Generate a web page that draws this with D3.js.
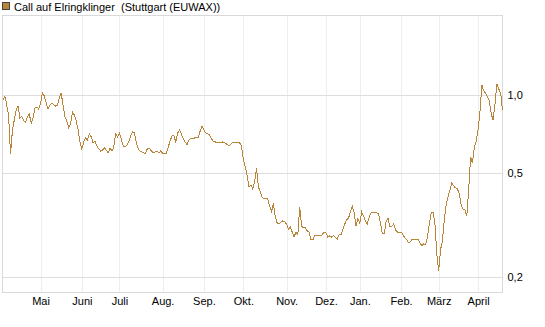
<!DOCTYPE html>
<html>
<head>
<meta charset="utf-8">
<script src="https://cdn.jsdelivr.net/npm/d3@7/dist/d3.min.js"></script>
<style>
    body { margin: 0; background: #fff; }
    svg { display: block; font-family: "Liberation Sans", Arial, sans-serif; }
</style>
</head>
<body>
<svg id="chart" width="545" height="327"></svg>
<script>
// chart data
const title = 'Call auf Elringklinger  (Stuttgart (EUWAX))';
const firstDay = '2024-04-03';
const holidays = ['2024-05-01', '2024-12-24', '2024-12-25', '2024-12-26', '2024-12-31',
    '2025-01-01', '2025-04-18', '2025-04-21'];
const monthNames = ['Jan.', 'Feb.', 'März', 'April', 'Mai', 'Juni', 'Juli', 'Aug.', 'Sep.', 'Okt.', 'Nov.', 'Dez.'];
const yTicks = [0.2, 0.5, 1.0];

// daily closing prices, one per trading day
const prices = [
    0.957, 0.991, 0.915, 0.830, 0.593, 0.727, 0.801, 0.876, 0.907, 0.816,
    0.830, 0.794, 0.787, 0.823, 0.845, 0.780, 0.816, 0.891, 0.899, 0.883,
    0.931, 1.018, 0.991, 0.931, 0.883, 0.915, 0.931, 0.915, 0.907, 0.915,
    0.974, 1.018, 0.907, 0.823, 0.794, 0.747, 0.774, 0.860, 0.838, 0.794,
    0.734, 0.660, 0.620, 0.660, 0.683, 0.671, 0.708, 0.689, 0.654, 0.665,
    0.637, 0.620, 0.609, 0.614, 0.625, 0.614, 0.598, 0.625, 0.609, 0.631,
    0.708, 0.689, 0.714, 0.677, 0.637, 0.631, 0.642, 0.660, 0.696, 0.721,
    0.714, 0.654, 0.620, 0.609, 0.604, 0.598, 0.598, 0.625, 0.625, 0.609,
    0.598, 0.604, 0.609, 0.598, 0.609, 0.598, 0.598, 0.598, 0.631, 0.665,
    0.696, 0.696, 0.660, 0.714, 0.734, 0.708, 0.677, 0.660, 0.642, 0.671,
    0.683, 0.677, 0.683, 0.689, 0.689, 0.727, 0.760, 0.734, 0.714, 0.708,
    0.702, 0.677, 0.665, 0.660, 0.654, 0.654, 0.654, 0.660, 0.654, 0.648,
    0.642, 0.642, 0.654, 0.660, 0.654, 0.654, 0.654, 0.637, 0.567, 0.529,
    0.492, 0.443, 0.451, 0.435, 0.463, 0.524, 0.443, 0.424, 0.405, 0.398,
    0.398, 0.398, 0.374, 0.355, 0.384, 0.339, 0.322, 0.319, 0.325, 0.328,
    0.325, 0.319, 0.305, 0.311, 0.297, 0.284, 0.297, 0.290, 0.371, 0.313,
    0.308, 0.308, 0.300, 0.297, 0.277, 0.277, 0.287, 0.287, 0.287, 0.287,
    0.290, 0.297, 0.295, 0.284, 0.287, 0.284, 0.287, 0.284, 0.279, 0.290,
    0.290, 0.305, 0.319, 0.331, 0.336, 0.355, 0.374, 0.352, 0.313, 0.334,
    0.322, 0.355, 0.342, 0.328, 0.319, 0.339, 0.352, 0.355, 0.352, 0.352,
    0.349, 0.322, 0.292, 0.292, 0.325, 0.336, 0.311, 0.311, 0.319, 0.303,
    0.297, 0.295, 0.297, 0.290, 0.282, 0.277, 0.270, 0.272, 0.279, 0.279,
    0.279, 0.279, 0.270, 0.263, 0.267, 0.265, 0.284, 0.319, 0.352, 0.355,
    0.322, 0.245, 0.210, 0.254, 0.274, 0.331, 0.378, 0.405, 0.431, 0.459,
    0.447, 0.439, 0.435, 0.416, 0.378, 0.364, 0.361, 0.342, 0.431, 0.578,
    0.548, 0.631, 0.665, 0.734, 0.860, 1.093, 1.036, 1.018, 0.983, 0.948,
    0.845, 0.801, 0.923, 1.102, 1.055, 1.018, 0.876
];

// build trading-day calendar
const parseDay = d3.timeParse('%Y-%m-%d');
const fmtDay = d3.timeFormat('%Y-%m-%d');
const dates = [];
let day = parseDay(firstDay);
while (dates.length < prices.length) {
    const wd = day.getDay();
    if (wd !== 0 && wd !== 6 && !holidays.includes(fmtDay(day))) dates.push(day);
    day = d3.timeDay.offset(day, 1);
}
const series = prices.map((v, i) => ({ i: i, date: dates[i], value: v }));
const monthStarts = series.filter((d, i) => i > 0 && d.date.getMonth() !== dates[i - 1].getMonth()).map(d => d.i);

// layout
const plot = { left: 2.5, right: 502.5, top: 15.5, bottom: 292.5 };
const lineColor = '#b8863b';

const svg = d3.select('#chart');

const x = d3.scaleLinear()
    .domain([0, prices.length - 1])
    .range([3, plot.right]);

const y = d3.scaleLog()
    .domain([0.1738, 2.022])
    .range([plot.bottom, plot.top]);

// vertical grid lines at month starts
svg.append('g')
    .selectAll('line')
    .data(monthStarts)
    .join('line')
    .attr('x1', d => Math.round(x(d)) + 0.5).attr('x2', d => Math.round(x(d)) + 0.5)
    .attr('y1', plot.top).attr('y2', plot.bottom)
    .attr('stroke', '#eeeeee')
    .attr('shape-rendering', 'crispEdges');

// horizontal grid lines
svg.append('g')
    .selectAll('line')
    .data(yTicks)
    .join('line')
    .attr('x1', plot.left).attr('x2', plot.right)
    .attr('y1', d => Math.round(y(d)) + 0.5).attr('y2', d => Math.round(y(d)) + 0.5)
    .attr('stroke', '#dddddd')
    .attr('shape-rendering', 'crispEdges');

// frame
svg.append('rect')
    .attr('x', plot.left).attr('y', plot.top)
    .attr('width', plot.right - plot.left).attr('height', plot.bottom - plot.top)
    .attr('fill', 'none')
    .attr('stroke', '#d9d9d9')
    .attr('shape-rendering', 'crispEdges');

// price line
const line = d3.line()
    .x(d => x(d.i))
    .y(d => y(d.value));

svg.append('path')
    .datum(series)
    .attr('d', line)
    .attr('fill', 'none')
    .attr('stroke', lineColor)
    .attr('stroke-width', 1)
    .attr('shape-rendering', 'crispEdges');

// x axis labels
const xAxis = d3.axisBottom(x)
    .tickValues(monthStarts)
    .tickFormat(i => monthNames[dates[i].getMonth()])
    .tickSize(0)
    .tickPadding(5);

svg.append('g')
    .attr('transform', `translate(0,${plot.bottom})`)
    .call(xAxis)
    .call(g => g.select('.domain').remove())
    .selectAll('text')
    .attr('font-size', 11)
    .attr('font-family', '"Liberation Sans", Arial, sans-serif')
    .attr('fill', '#000');

// y axis labels on the right
const yAxis = d3.axisRight(y)
    .tickValues(yTicks)
    .tickFormat(d => d3.format('.1f')(d).replace('.', ','))
    .tickSize(0)
    .tickPadding(5);

svg.append('g')
    .attr('transform', `translate(${plot.right},0)`)
    .call(yAxis)
    .call(g => g.select('.domain').remove())
    .selectAll('text')
    .attr('font-size', 11)
    .attr('font-family', '"Liberation Sans", Arial, sans-serif')
    .attr('fill', '#000');

// legend / title
svg.append('rect')
    .attr('x', 2.5).attr('y', 2.5)
    .attr('width', 7).attr('height', 7)
    .attr('fill', lineColor)
    .attr('stroke', '#444');

svg.append('text')
    .attr('x', 14).attr('y', 10.5)
    .attr('font-size', 11)
    .attr('fill', '#000')
    .style('white-space', 'pre')
    .text(title);
</script>
</body>
</html>
